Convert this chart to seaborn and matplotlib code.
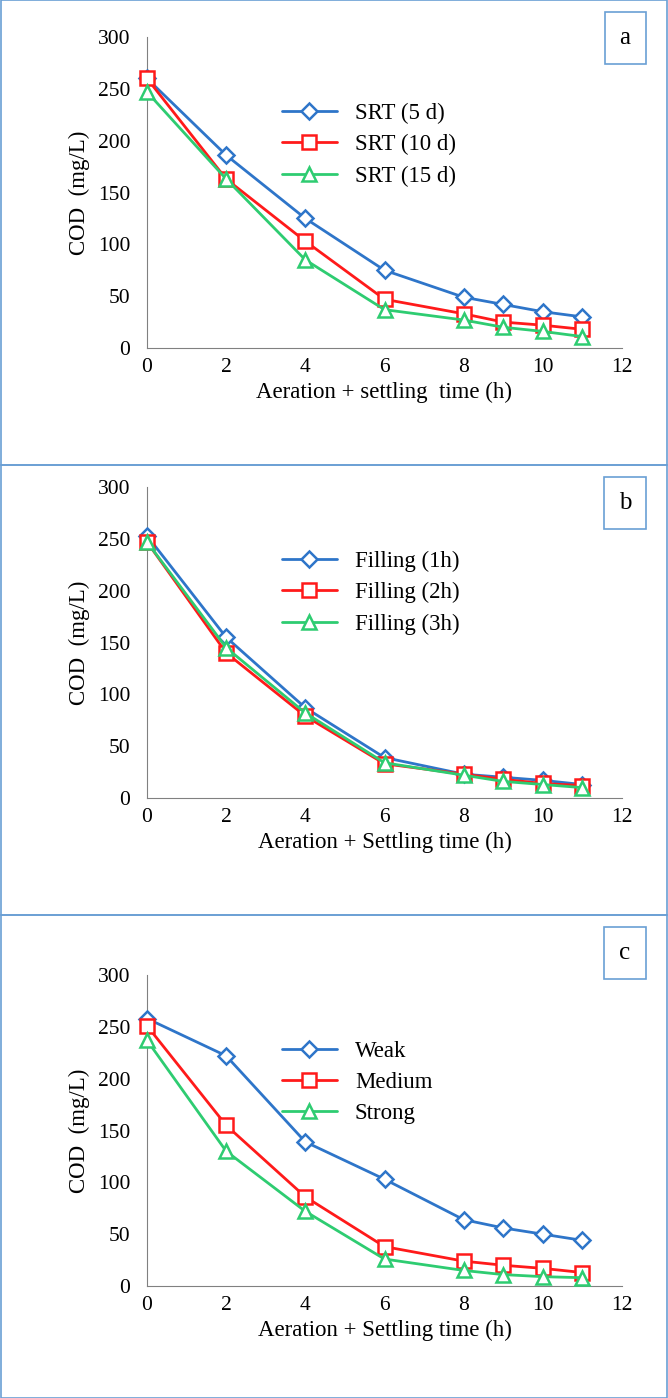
import numpy as np
import pandas as pd
import seaborn as sns
import matplotlib.pyplot as plt
from matplotlib.patches import Rectangle

sns.set_style("white")
plt.rcParams['font.family'] = ['Liberation Serif', 'DejaVu Serif']
plt.rcParams['text.color'] = 'black'

time_h = [0, 2, 4, 6, 8, 9, 10, 11]

srt_labels = ["SRT (5 d)", "SRT (10 d)", "SRT (15 d)"]
srt_5 = [260, 186, 125, 75, 49, 42, 35, 30]
srt_10 = [260, 163, 103, 47, 33, 25, 22, 18]
srt_15 = [247, 163, 85, 37, 27, 20, 16, 11]

fill_labels = ["Filling (1h)", "Filling (2h)", "Filling (3h)"]
fill_1 = [253, 155, 87, 39, 23, 20, 17, 13]
fill_2 = [247, 140, 79, 33, 23, 18, 14, 12]
fill_3 = [247, 145, 82, 34, 22, 16, 13, 10]

mix_labels = ["Weak", "Medium", "Strong"]
weak = [258, 222, 139, 103, 64, 56, 50, 44]
medium = [251, 155, 86, 38, 24, 20, 17, 13]
strong = [237, 130, 72, 26, 15, 11, 9, 8]

panels = [
    ("a", srt_labels, [srt_5, srt_10, srt_15], "Aeration + settling  time (h)"),
    ("b", fill_labels, [fill_1, fill_2, fill_3], "Aeration + Settling time (h)"),
    ("c", mix_labels, [weak, medium, strong], "Aeration + Settling time (h)"),
]

colors = ["#2e75c9", "#ff1a1a", "#2ecc71"]
markers = ["D", "s", "^"]
msize = [8.5, 10.5, 10.5]

W, H = 668, 1398
fig = plt.figure(figsize=(W / 100, H / 100), dpi=100)

frames = [(0, 465), (465, 915), (915, 1398)]
axes_px = [(37, 348), (487, 798), (975, 1286)]
legend_top = [82, 530, 1020]
blue_line = "#6a9fd4"

for (letter, labels, series, xlabel), (ft, fb), (at, ab), lt in zip(panels, frames, axes_px, legend_top):
    fig.patches.append(Rectangle((1 / W, 1 - fb / H), 1 - 2 / W, (fb - ft) / H,
                                 transform=fig.transFigure, fill=False,
                                 edgecolor=blue_line, lw=1.2))
    ax = fig.add_axes([147 / W, 1 - ab / H, (622 - 147) / W, (ab - at) / H])
    rows = []
    for lab, vals in zip(labels, series):
        for t, v in zip(time_h, vals):
            rows.append({"time": t, "COD": v, "series": lab})
    df = pd.DataFrame(rows)
    for i, lab in enumerate(labels):
        sub = df[df["series"] == lab]
        sns.lineplot(data=sub, x="time", y="COD", ax=ax, color=colors[i],
                     marker=markers[i], markersize=msize[i], markerfacecolor="white",
                     markeredgecolor=colors[i], markeredgewidth=1.8, lw=2, label=lab,
                     clip_on=False, zorder=3 + i)
    ax.set_xlim(0, 12)
    ax.set_ylim(0, 300)
    ax.set_xticks(range(0, 13, 2))
    ax.set_yticks(range(0, 301, 50))
    ax.tick_params(axis="x", labelsize=15.5, length=0, pad=7, labelcolor="black")
    ax.tick_params(axis="y", labelsize=15.5, length=0, pad=12, labelcolor="black")
    ax.set_xlabel(xlabel, fontsize=16.5, color="black")
    ax.set_ylabel("COD  (mg/L)", fontsize=16.5, color="black", labelpad=6)
    sns.despine(ax=ax)
    for s in ["left", "bottom"]:
        ax.spines[s].set_color("#808080")
    ax.legend(loc="upper left", bbox_to_anchor=(0.24, 1 - (lt - at) / (ab - at)),
              frameon=False, fontsize=16.5, handlelength=2.4, labelspacing=0.45)
    fig.text(625 / W, 1 - (ft + 38) / H, letter, fontsize=18, ha="center", va="center",
             bbox=dict(boxstyle="square,pad=0.6", fc="white", ec=blue_line, lw=1.2))

fig.savefig("out.png", dpi=100)
